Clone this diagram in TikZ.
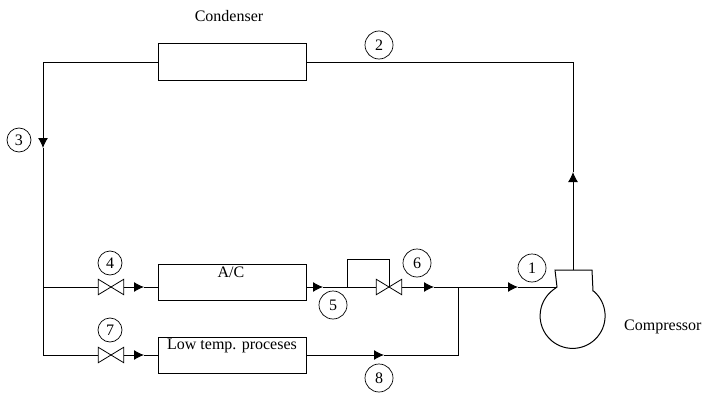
\documentclass[tikz,border=0pt]{standalone}
\usepackage{fontspec}
\setmainfont{Liberation Serif}
\usetikzlibrary{arrows.meta}
\tikzset{
    unitbox/.style={draw, line width=1pt, minimum width=148pt, minimum height=36pt, inner sep=0pt},
    statenum/.style={draw, circle, line width=0.7pt, minimum size=28pt, inner sep=0pt},
    smallnum/.style={statenum, minimum size=24pt},
    valvebox/.style={minimum width=25pt, minimum height=15pt, inner sep=0pt},
    caption/.style={inner sep=0pt},
    pipe/.style={line width=1pt},
    flow/.style={pipe, -{Latex[length=10pt,width=10pt]}},
}
\begin{document}
\begin{tikzpicture}[x=1pt, y=1pt, font=\fontsize{16}{19}\selectfont]
    \useasboundingbox (0,0) rectangle (702,392);
    \node[unitbox] (condenser) at (232,330) {};
    \node[unitbox] (ac) at (232,110) {};
    \node[unitbox] (lowtemp) at (232,37) {};
    \node[caption] (condlabel) at (229,376) {Condenser};
    \node[caption] (aclabel) at (231,120) {A/C};
    \node[caption] (lowlabel) at (232,46) {Low temp. proceses};
    \node[caption, anchor=west] (complabel) at (624,65) {Compressor};
    \node[valvebox] (v4) at (111,105) {};
    \node[valvebox] (v6) at (389,105) {};
    \node[valvebox] (v7) at (111,37) {};
    \foreach \v in {v4,v6,v7}
        \draw[line width=0.8pt] (\v.north west) -- (\v.south east) -- (\v.north east) -- (\v.south west) -- cycle;
    \node[statenum] (n1) at (532,124) {1};
    \node[statenum] (n2) at (379,347) {2};
    \node[smallnum] (n3) at (19,252) {3};
    \node[smallnum] (n4) at (110,129) {4};
    \node[statenum] (n5) at (333,87) {5};
    \node[statenum] (n6) at (417,129) {6};
    \node[smallnum] (n7) at (110,62) {7};
    \node[statenum] (n8) at (379,14) {8};
    % compressor body
    \coordinate (inlet) at (557,105);
    \coordinate (outlet) at (573,122);
    \draw[line width=1pt] (593.5,101) arc (50:-232:32.5) -- (inlet) -- (555,122) -- (592,122) -- (593,101) -- (593.5,101);
    % points on the loop
    \coordinate (corner2) at (573,330);
    \coordinate (corner3) at (43,330);
    \coordinate (split) at (43,105);
    \coordinate (corner7) at (43,37);
    \coordinate (tipup) at (573,220);
    \coordinate (tipdown) at (43,244);
    \coordinate (tip4) at (144,105);
    \coordinate (tip5) at (323,105);
    \coordinate (tip6) at (434,105);
    \coordinate (tip7) at (144,37);
    \coordinate (tip8) at (384,37);
    \coordinate (tip1) at (518,105);
    \coordinate (merge) at (458,105);
    \coordinate (corner8) at (458,37);
    \coordinate (bypass) at (347,105);
    \coordinate (bypassa) at (347,133);
    \coordinate (bypassb) at (389,133);
    % pipes
    \draw[flow] (outlet) -- (tipup);
    \draw[pipe] (tipup) -- (corner2) -- (condenser.east);
    \draw[flow] (condenser.west) -- (corner3) -- (tipdown);
    \draw[pipe] (tipdown) -- (corner7) -- (v7.west);
    \draw[pipe] (split) -- (v4.west);
    \draw[flow] (v4.east) -- (tip4);
    \draw[pipe] (tip4) -- (ac.west |- tip4);
    \draw[flow] (ac.east |- tip5) -- (tip5);
    \draw[pipe] (tip5) -- (v6.west);
    \draw[pipe] (bypass) -- (bypassa) -- (bypassb) -- (v6.center);
    \draw[flow] (v6.east) -- (tip6);
    \draw[pipe] (tip6) -- (merge);
    \draw[flow] (merge) -- (tip1);
    \draw[pipe] (tip1) -- (inlet);
    \draw[flow] (v7.east) -- (tip7);
    \draw[pipe] (tip7) -- (lowtemp.west);
    \draw[flow] (lowtemp.east) -- (tip8);
    \draw[pipe] (tip8) -- (corner8) -- (merge);
\end{tikzpicture}
\end{document}
